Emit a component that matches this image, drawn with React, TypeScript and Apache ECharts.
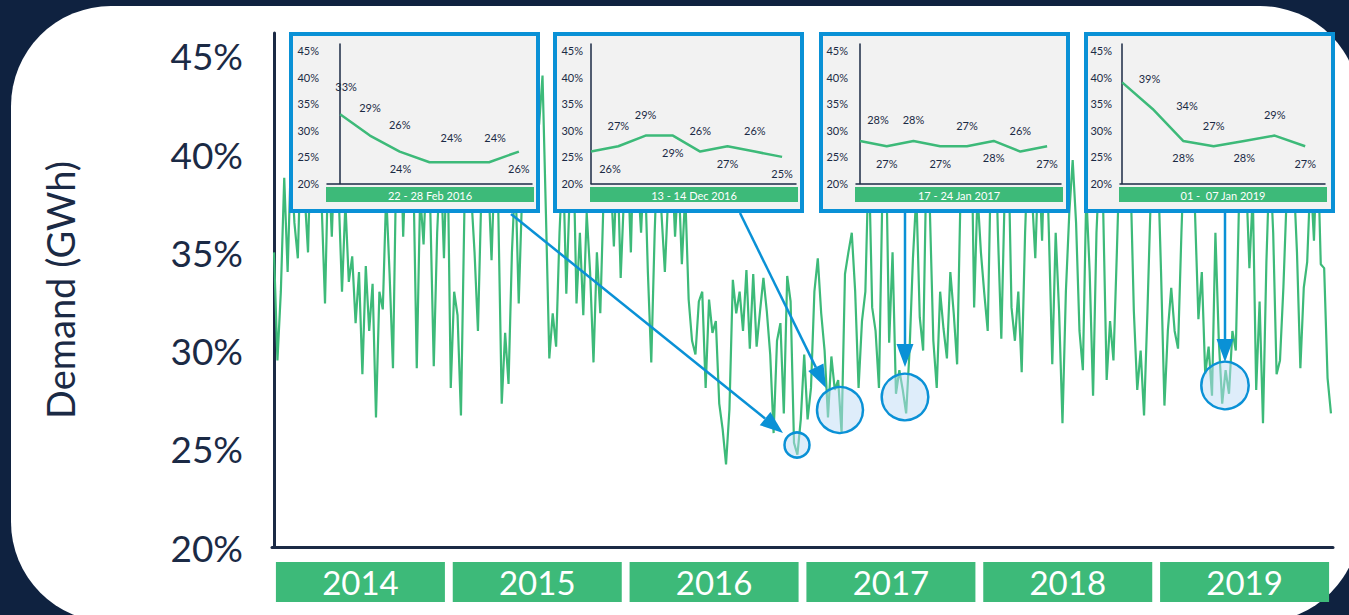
import React, { useEffect, useRef } from 'react';
import * as echarts from 'echarts';

// Weekly share of demand, one array per calendar year (52 weeks each)
const years = ['2014', '2015', '2016', '2017', '2018', '2019'];

const demand2014 = [
  35, 29.5, 33, 38.8, 34, 40, 36.5, 34.7, 41, 38,
  35, 42, 39, 43, 37.5, 32.4, 40, 35.8, 41, 38,
  33, 37.5, 33.5, 34.8, 31.4, 34, 28.8, 34.3, 31, 33.4,
  26.6, 33, 32.1, 38, 33.9, 29.1, 40, 43, 35.8, 41,
  38, 39, 29.1, 38, 35.4, 40, 37, 29.2, 36, 40,
  34.7, 41,
];
const demand2015 = [
  28.1, 33, 31.8, 26.7, 37, 41, 38, 35, 31, 38,
  42, 39, 34.6, 40, 37, 27.3, 30.9, 28.3, 35, 39,
  32.4, 38, 43, 40, 42, 45, 41.5, 44, 37, 29.6,
  31.9, 30.2, 36, 40, 32.9, 38, 41, 32.4, 36, 31.8,
  37, 34, 29.4, 35, 31.9, 38, 42, 39, 35.3, 40,
  33.7, 38,
];
const demand2016 = [
  40, 35, 42, 39, 36, 40, 34, 29.4, 36, 41,
  37, 34, 38, 40, 35.8, 39, 34.4, 38, 32.6, 30.5,
  29.8, 32.5, 33, 28.1, 32.6, 30.9, 31.5, 27.3, 26, 24.2,
  27, 33.6, 31.9, 33, 31, 34.1, 30.1, 33.9, 30.2, 32,
  33.7, 32, 29.8, 25.8, 30.5, 31.4, 26.8, 33.8, 32.5, 25.3,
  24.7, 26.5,
];
const demand2017 = [
  29.8, 26.5, 28.1, 33, 34.7, 31.9, 30, 26.6, 29.7, 28,
  28.5, 25.8, 33.9, 35, 36, 33, 28.1, 31.5, 33, 40,
  32.2, 31, 28.1, 38, 41, 30.4, 35, 27.8, 29, 28,
  26.8, 30, 34.7, 38, 31.7, 30, 40, 37, 30.5, 28.1,
  33, 31.1, 29.6, 34, 31.9, 29.3, 38, 42, 39, 44,
  32.2, 38,
];
const demand2018 = [
  35, 32.9, 31, 40, 43, 36, 30.6, 38, 41, 32.2,
  30.5, 33, 28.9, 36, 41, 38, 34.7, 40, 35.6, 42,
  36, 29.3, 36, 32, 26.3, 33, 37, 39.7, 36.5, 31,
  29, 38, 34, 27.7, 36, 40, 37, 28.5, 31.5, 29.5,
  35, 41, 38, 43, 39, 32, 28, 30, 26.7, 32,
  38, 41,
];
const demand2019 = [
  40, 34, 27.2, 31, 33.2, 31, 30.1, 36, 41, 44,
  40, 37, 31.6, 34, 28.8, 30.2, 27.7, 36, 30.5, 27.3,
  29, 27.8, 31, 30, 38, 42, 39, 34.2, 38, 28,
  32.5, 26.3, 34.5, 40, 36, 28.8, 29.5, 33.2, 38, 43,
  39, 35, 29.1, 33.2, 34.5, 39, 35.6, 41, 34.4, 34.2,
  28.6, 26.8,
];

const weeklyDemand = [
  ...demand2014, ...demand2015, ...demand2016,
  ...demand2017, ...demand2018, ...demand2019,
];

// Daily detail for the four highlighted periods
const feb2016 = [33, 29, 26, 24, 24, 24, 26];
const dec2016 = [26, 27, 29, 29, 26, 27, 26, 25];
const jan2017 = [28, 27, 28, 27, 27, 28, 26, 27];
const jan2019 = [39, 34, 28, 27, 28, 29, 27];
const insetTitles = ['22 - 28 Feb 2016', '13 - 14 Dec 2016', '17 - 24 Jan 2017', '01 -  07 Jan 2019'];

const NAVY = '#0f2240';
const INK = '#1b2a45';
const GREEN = '#3dba79';
const BLUE = '#0a91d6';
const FONT = 'Lato, "Open Sans", sans-serif';

// Layout of the inset panels; `shifts` nudges individual labels clear of axes and neighbours
const insets: any[] = [
  {
    data: feb2016, box: 289, axis: 327, min: -0.44, max: 6.44,
    sides: ['top', 'top', 'top', 'bottom', 'top', 'top', 'bottom'],
    shifts: { 0: [6, -7], 1: [0, -7], 2: [0, -6], 3: [-29, -11], 4: [-8, -4], 5: [6, -4] },
  },
  {
    data: dec2016, box: 553, axis: 591, min: 0, max: 7.51,
    sides: ['bottom', 'top', 'top', 'bottom', 'top', 'bottom', 'top', 'bottom'],
    shifts: { 0: [19, 0] },
  },
  {
    data: jan2017, box: 819, axis: 856, min: -0.15, max: 7.52,
    sides: ['top', 'bottom', 'top', 'bottom', 'top', 'bottom', 'top', 'bottom'],
    shifts: { 0: [18, 0] },
  },
  {
    data: jan2019, box: 1084, axis: 1120, min: -0.07, max: 6.65,
    sides: ['right', 'right', 'bottom', 'top', 'bottom', 'top', 'bottom'],
    shifts: { 0: [0, -4], 1: [7, -3] },
  },
];
const labelGap: Record<string, number> = { top: 15, bottom: 11, right: 16 };

// Callouts: arrow from the panel edge to a ring around the period
const callouts = [
  { from: [511, 214], to: [783, 433], ring: [797, 445, 12.5] },
  { from: [740, 213], to: [826, 388], ring: [840, 410, 23] },
  { from: [905, 213], to: [905, 367], ring: [905, 397, 23.3] },
  { from: [1225, 213], to: [1225, 362], ring: [1225, 385.5, 23.7] },
];

const pctFormatter = (v: number) => (Math.abs(v % 5) < 1e-6 ? `${v}%` : '');

function arrow(x1: number, y1: number, x2: number, y2: number) {
  const dx = x2 - x1;
  const dy = y2 - y1;
  const len = Math.hypot(dx, dy);
  const ux = dx / len;
  const uy = dy / len;
  const head = 23;
  const half = 8.5;
  const bx = x2 - ux * head;
  const by = y2 - uy * head;
  return [
    { type: 'line', silent: true, z: 5, shape: { x1, y1, x2: bx, y2: by }, style: { stroke: BLUE, lineWidth: 2.5 } },
    {
      type: 'polygon', silent: true, z: 5,
      shape: { points: [[x2, y2], [bx - uy * half, by + ux * half], [bx + uy * half, by - ux * half]] },
      style: { fill: BLUE },
    },
  ];
}

export default function App() {
  const ref = useRef<HTMLDivElement>(null);

  useEffect(() => {
    if (!ref.current) return;
    const chart = echarts.init(ref.current, undefined, { renderer: 'svg' });

    const grids: any[] = [{ left: 272, right: 16, top: 33, bottom: 68 }];
    const xAxes: any[] = [
      {
        type: 'value', gridIndex: 0, min: -0.6, max: 311.6,
        axisLine: { lineStyle: { color: INK, width: 3 } },
        axisTick: { show: false }, axisLabel: { show: false }, splitLine: { show: false },
      },
      {
        type: 'category', gridIndex: 0, position: 'bottom', data: years,
        axisLine: { show: false }, axisTick: { show: false }, splitLine: { show: false },
        axisLabel: {
          margin: 15, color: '#ffffff', fontSize: 33, fontFamily: FONT,
          backgroundColor: GREEN, width: 169, height: 40, lineHeight: 40,
          align: 'center', overflow: 'none',
        },
      },
    ];
    const yAxes: any[] = [
      {
        type: 'value', gridIndex: 0, min: 20, max: 46.17, interval: 5,
        name: 'Demand (GWh)', nameLocation: 'middle', nameGap: 193, nameRotate: 90,
        nameTextStyle: { color: INK, fontSize: 38, fontFamily: FONT },
        axisLine: { show: true, lineStyle: { color: INK, width: 3 } },
        axisTick: { show: false }, splitLine: { show: false },
        axisLabel: { margin: 29, color: INK, fontSize: 37, fontFamily: FONT, formatter: pctFormatter },
      },
    ];
    const series: any[] = [
      {
        type: 'line', xAxisIndex: 0, yAxisIndex: 0, z: 2,
        data: weeklyDemand.map((v, i) => [i, v]),
        showSymbol: false, silent: true,
        lineStyle: { color: GREEN, width: 2.2 },
      },
    ];

    const graphics: any[] = [
      {
        type: 'rect', silent: true, z: -10,
        shape: { x: 11, y: 6, width: 1349, height: 616, r: 100 },
        style: { fill: '#ffffff' },
      },
    ];

    insets.forEach((ins, k) => {
      grids.push({ left: ins.axis, top: 44, width: 205, height: 139.5 });
      xAxes.push({
        type: 'value', gridIndex: k + 1, min: ins.min, max: ins.max, z: 20,
        axisLine: { lineStyle: { color: INK, width: 1.5 } },
        axisTick: { show: false }, axisLabel: { show: false }, splitLine: { show: false },
      });
      yAxes.push({
        type: 'value', gridIndex: k + 1, min: 20, max: 46.2, interval: 5, z: 20,
        axisLine: { show: true, lineStyle: { color: INK, width: 1.5 } },
        axisTick: { show: false }, splitLine: { show: false },
        axisLabel: { margin: 8, color: INK, fontSize: 11, fontFamily: FONT, formatter: pctFormatter },
      });
      series.push({
        type: 'line', xAxisIndex: k + 2, yAxisIndex: k + 1, z: 20, silent: true,
        data: ins.data.map((v: number, i: number) => ({
          value: [i, v],
          label: {
            position: ins.sides[i],
            distance: labelGap[ins.sides[i]],
            offset: ins.shifts[i] || [0, 0],
          },
        })),
        symbol: 'circle', symbolSize: 1,
        itemStyle: { color: 'rgba(0,0,0,0)' },
        lineStyle: { color: GREEN, width: 2.5 },
        label: {
          show: true, color: INK, fontSize: 11, fontFamily: FONT,
          formatter: (p: any) => `${p.value[1]}%`,
        },
      });

      graphics.push(
        {
          type: 'rect', silent: true, z: 10,
          shape: { x: ins.box + 2, y: 34, width: 247, height: 177 },
          style: { fill: '#f2f2f2', stroke: BLUE, lineWidth: 4 },
        },
        {
          type: 'rect', silent: true, z: 20,
          shape: { x: ins.axis - 1, y: 187, width: 208, height: 15 },
          style: { fill: GREEN },
        },
        {
          type: 'text', silent: true, z: 21,
          x: ins.axis + 103, y: 195,
          style: {
            text: insetTitles[k], fill: '#ffffff', fontSize: 11, fontFamily: FONT,
            align: 'center', verticalAlign: 'middle',
          },
        },
      );
    });

    callouts.forEach((c) => {
      graphics.push(...arrow(c.from[0], c.from[1], c.to[0], c.to[1]));
      graphics.push({
        type: 'circle', silent: true, z: 6,
        shape: { cx: c.ring[0], cy: c.ring[1], r: c.ring[2] },
        style: { fill: 'rgba(190,220,245,0.5)', stroke: BLUE, lineWidth: 2.5 },
      });
    });

    chart.setOption({
      animation: false,
      backgroundColor: NAVY,
      textStyle: { fontFamily: FONT },
      grid: grids,
      xAxis: xAxes,
      yAxis: yAxes,
      series,
      graphic: { elements: graphics },
    });

    return () => chart.dispose();
  }, []);

  return (
    <div
      ref={ref}
      style={{ position: 'fixed', left: 0, top: 0, width: 1349, height: 615 }}
    />
  );
}
